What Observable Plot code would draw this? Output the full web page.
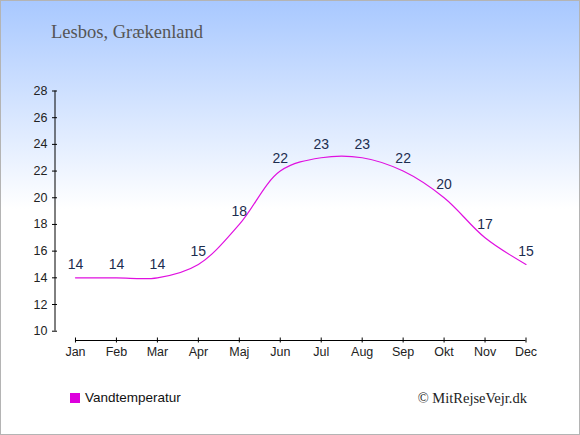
<!DOCTYPE html>
<html>
<head>
<meta charset="utf-8">
<script src="https://cdn.jsdelivr.net/npm/d3@7"></script>
<script src="https://cdn.jsdelivr.net/npm/@observablehq/plot@0.6"></script>
<style>
  html, body { margin: 0; padding: 0; background: #fff; }
  #wrap {
    position: relative; width: 580px; height: 435px; overflow: hidden;
    background: linear-gradient(to bottom, #a8c8ff 0%, #ffffff 48%, #ffffff 100%);
    box-shadow: inset 0 0 0 1px #b4b4b4;
  }
  #chart { position: absolute; left: 0; top: 0; }
  #title {
    position: absolute; left: 51px; top: 22px;
    font-family: "Liberation Serif", "DejaVu Serif", serif; font-size: 18.5px; color: #555;
    line-height: 20px; white-space: nowrap;
  }
  #legend {
    position: absolute; left: 70px; top: 388px; height: 20px;
    font-family: "Liberation Sans", Arial, sans-serif; font-size: 13.5px; color: #111;
    line-height: 20px; white-space: nowrap;
  }
  #legend .sw { display: inline-block; width: 10px; height: 10px; background: #dd00dd; vertical-align: -1px; margin-right: 5px; }
  #credit {
    position: absolute; right: 53px; top: 388px;
    font-family: "Liberation Serif", "DejaVu Serif", serif; font-size: 14.5px; color: #222;
    line-height: 20px; white-space: nowrap;
  }
</style>
</head>
<body>
<div id="wrap">
  <div id="chart"></div>
  <div id="title">Lesbos, Grækenland</div>
  <div id="legend"><span class="sw"></span>Vandtemperatur</div>
  <div id="credit">© MitRejseVejr.dk</div>
</div>
<script>
const months = ["Jan","Feb","Mar","Apr","Maj","Jun","Jul","Aug","Sep","Okt","Nov","Dec"];
const waterTemp = [14, 14, 14, 15, 18, 22, 23, 23, 22, 20, 17, 15];
const yTicks = [10, 12, 14, 16, 18, 20, 22, 24, 26, 28];

const data = months.map((m, i) => ({i, month: m, v: waterTemp[i]}));
const monthIdx = months.map((m, i) => i);
const xDomain = [-0.5, months.length - 1];
const yDomain = [yTicks[0], yTicks[yTicks.length - 1]];

const chart = Plot.plot({
  width: 580,
  height: 435,
  marginLeft: 54.5,
  marginRight: 54.5,
  marginTop: 90.5,
  marginBottom: 95,
  insetBottom: 9.3,
  style: {background: "transparent", fontFamily: "'Liberation Sans', Arial, sans-serif", fontSize: "12.5px", color: "#222"},
  x: {domain: xDomain, axis: null},
  y: {domain: yDomain, axis: null},
  marks: [
    Plot.ruleX([xDomain[0]], {y1: yDomain[0], y2: yDomain[1], stroke: "#000", strokeWidth: 1}),
    Plot.axisY({ticks: yTicks, tickSize: 5, tickPadding: 5, dx: 2.5, anchor: "left", stroke: "#000", fill: "#222", label: null}),
    Plot.ruleY([yDomain[0]], {x1: monthIdx[0], x2: monthIdx[monthIdx.length - 1], dy: 9.3, stroke: "#000", strokeWidth: 1}),
    Plot.axisX({ticks: monthIdx, tickFormat: i => months[i], tickSize: 5, tickPadding: 4, dy: -2.5, anchor: "bottom", stroke: "#000", fill: "#222", label: null}),
    Plot.line(data, {x: "i", y: "v", curve: "catmull-rom", stroke: "#e010e0", strokeWidth: 1.2}),
    Plot.text(data, {x: "i", y: "v", text: d => String(d.v), dy: -13, fill: "#1c2d4f", fontSize: 14})
  ]
});
document.getElementById("chart").appendChild(chart);
</script>
</body>
</html>
